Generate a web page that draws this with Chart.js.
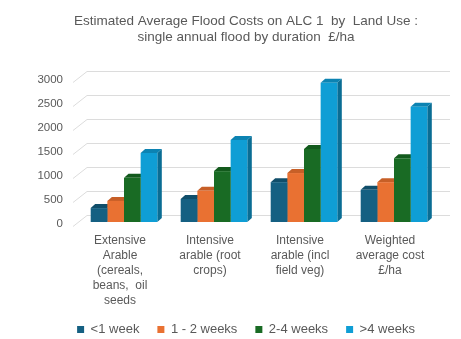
<!DOCTYPE html>
<html>
<head>
<meta charset="utf-8">
<script src="https://cdn.jsdelivr.net/npm/chart.js@4"></script>
<style>
  html, body { margin: 0; padding: 0; background: #fff; }
  #wrap { width: 461px; height: 339px; }
</style>
</head>
<body>
<div id="wrap"><canvas id="barChart" width="461" height="339"></canvas></div>
<script>
const categories = [
    ["Extensive", "Arable", "(cereals,", "beans,  oil", "seeds"],
    ["Intensive", "arable (root", "crops)"],
    ["Intensive", "arable (incl", "field veg)"],
    ["Weighted", "average cost", "£/ha"]
];
const seriesNames = ["<1 week", "1 - 2 weeks", "2-4 weeks", ">4 weeks"];
const lessThan1Week = [290, 480, 830, 670];
const oneToTwoWeeks = [440, 650, 1020, 830];
const twoToFourWeeks = [920, 1060, 1520, 1330];
const moreThan4Weeks = [1440, 1710, 2900, 2400];
const yTicks = [0, 500, 1000, 1500, 2000, 2500, 3000];

const frontColors = ["#156082", "#E97132", "#196B24", "#0F9ED5"];
const sideColors = ["#0E4259", "#B0531F", "#104A18", "#0A6D94"];
const topColors = ["#104E6A", "#C75F27", "#135A1D", "#0C83B2"];
const DX = 4.5, DY = 4;
const TEXT = "#595959";
const FONT = "'Liberation Sans', Arial, sans-serif";

// back wall gridlines plus the side and top faces of each bar
const depthPlugin = {
    id: 'depth',
    beforeDatasetsDraw(chart) {
        const ctx = chart.ctx;
        const area = chart.chartArea;
        const yScale = chart.scales.y;
        ctx.save();
        ctx.strokeStyle = "#dcdcdc";
        ctx.lineWidth = 1;
        yTicks.forEach(v => {
            const py = Math.round(yScale.getPixelForValue(v)) + 0.5;
            ctx.beginPath();
            ctx.moveTo(area.left - 6, py + 4);
            ctx.lineTo(area.left + 8, py - 7);
            ctx.lineTo(area.right + 11, py - 7);
            ctx.stroke();
        });
        chart.data.datasets.forEach((ds, i) => {
            chart.getDatasetMeta(i).data.forEach(bar => {
                const p = bar.getProps(['x', 'y', 'base', 'width'], true);
                const l = p.x - p.width / 2, r = p.x + p.width / 2;
                ctx.fillStyle = sideColors[i];
                ctx.beginPath();
                ctx.moveTo(r, p.y);
                ctx.lineTo(r + DX, p.y - DY);
                ctx.lineTo(r + DX, p.base - DY);
                ctx.lineTo(r, p.base);
                ctx.closePath();
                ctx.fill();
                ctx.fillStyle = topColors[i];
                ctx.beginPath();
                ctx.moveTo(l, p.y);
                ctx.lineTo(l + DX, p.y - DY);
                ctx.lineTo(r + DX, p.y - DY);
                ctx.lineTo(r, p.y);
                ctx.closePath();
                ctx.fill();
            });
        });
        ctx.restore();
    }
};

const seriesValues = [lessThan1Week, oneToTwoWeeks, twoToFourWeeks, moreThan4Weeks];

new Chart(document.getElementById('barChart').getContext('2d'), {
    type: 'bar',
    data: {
        labels: categories,
        datasets: seriesValues.map((vals, i) => ({
            label: seriesNames[i],
            data: vals,
            backgroundColor: frontColors[i],
            borderWidth: 0,
            categoryPercentage: 0.74,
            barPercentage: 1.0
        }))
    },
    options: {
        responsive: false,
        animation: false,
        layout: { padding: { left: 37, right: 6, top: 0, bottom: -7 } },
        plugins: {
            title: {
                display: true,
                text: ["Estimated Average Flood Costs on ALC 1  by  Land Use :", "single annual flood by duration  £/ha"],
                color: TEXT,
                font: { family: FONT, size: 13.5, weight: 'normal', lineHeight: 1.185 },
                padding: { top: 13, bottom: 33 }
            },
            legend: {
                position: 'bottom',
                labels: {
                    color: TEXT,
                    font: { family: FONT, size: 13 },
                    boxWidth: 7,
                    boxHeight: 7,
                    padding: 18
                }
            },
            tooltip: { enabled: false }
        },
        scales: {
            x: {
                grid: { display: false, drawTicks: false },
                border: { display: false },
                ticks: {
                    color: TEXT,
                    font: { family: FONT, size: 12, lineHeight: 1.25 },
                    padding: 11.5,
                    labelOffset: -4,
                    maxRotation: 0,
                    autoSkip: false
                },
                afterFit: s => { s.height = 83; }
            },
            y: {
                min: 0,
                max: 3000,
                grid: { display: false, drawTicks: false },
                border: { display: false },
                ticks: {
                    stepSize: 500,
                    color: TEXT,
                    font: { family: FONT, size: 11.5 },
                    padding: 16,
                    labelOffset: 2,
                    callback: v => String(v)
                },
                afterFit: s => { s.width = 42; }
            },
            // empty right-hand strip so the plot sits left of the centred title and legend
            y2: {
                position: 'right',
                min: 0,
                max: 3000,
                grid: { display: false, drawTicks: false },
                border: { display: false },
                ticks: { display: false },
                afterFit: s => { s.width = 16; }
            }
        }
    },
    plugins: [depthPlugin]
});
</script>
</body>
</html>
